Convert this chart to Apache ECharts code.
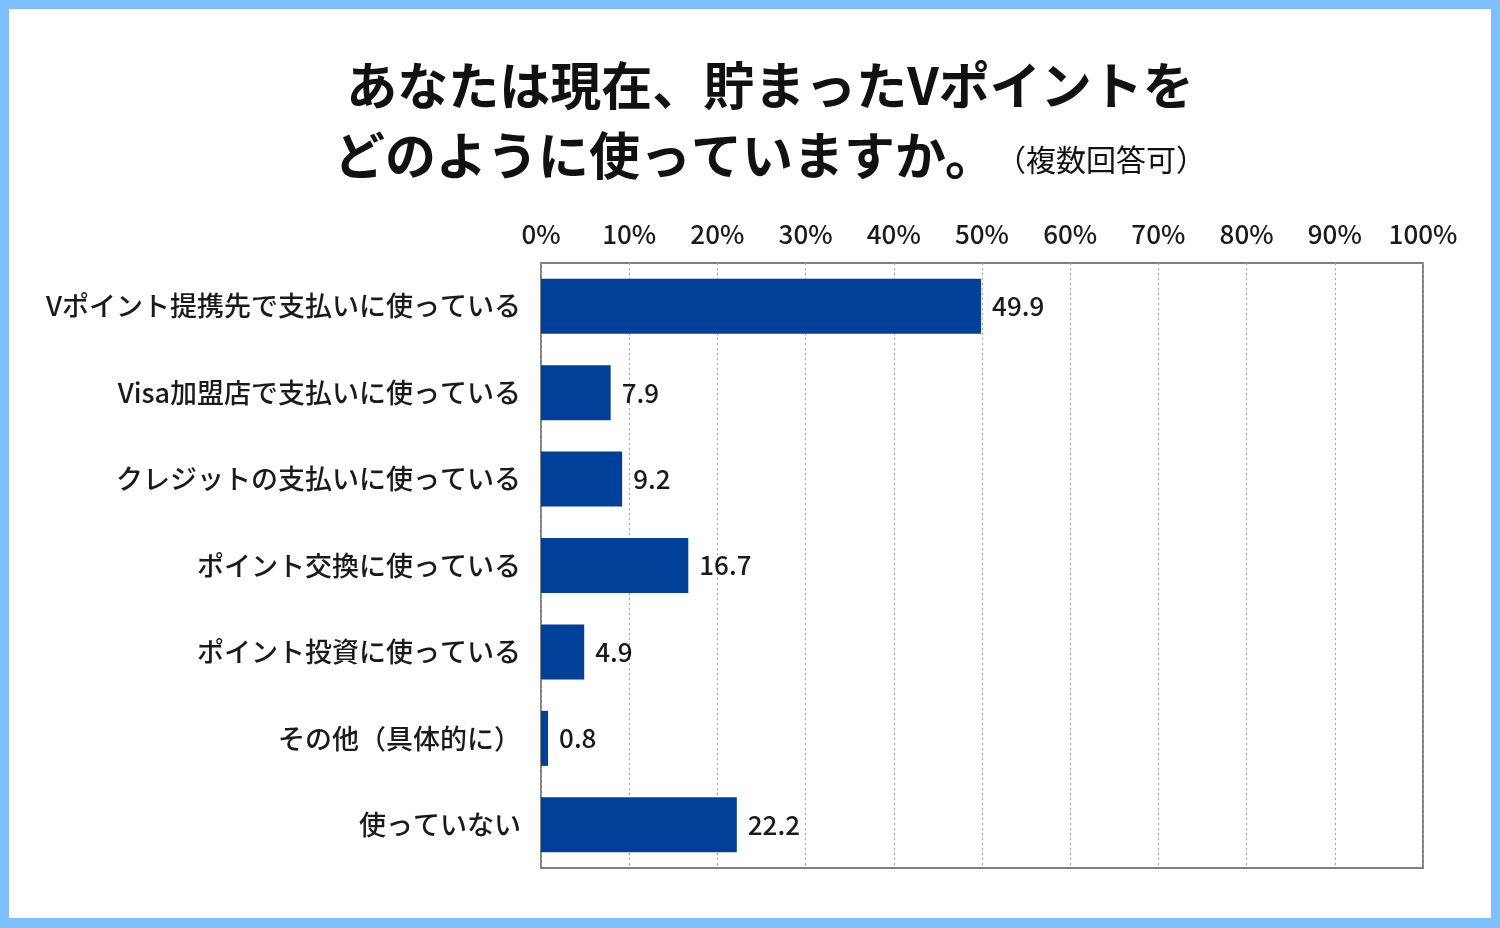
<!DOCTYPE html>
<html>
<head>
<meta charset="utf-8">
<script src="https://cdn.jsdelivr.net/npm/echarts@6/dist/echarts.min.js"></script>
<style>
  html, body { margin: 0; padding: 0; background: #7dc0ff; }
  #wrap { position: absolute; left: 9px; top: 9px; width: 1482px; height: 909px; background: #fff; }
  #chart { position: absolute; left: -9px; top: -9px; width: 1500px; height: 928px; }
</style>
</head>
<body>
<div id="wrap"><div id="chart"></div></div>
<script>
const categories = [
  'Vポイント提携先で支払いに使っている',
  'Visa加盟店で支払いに使っている',
  'クレジットの支払いに使っている',
  'ポイント交換に使っている',
  'ポイント投資に使っている',
  'その他（具体的に）',
  '使っていない'
];
const values = [49.9, 7.9, 9.2, 16.7, 4.9, 0.8, 22.2];
const titleLine1 = 'あなたは現在、貯まったVポイントを';
const titleLine2 = 'どのように使っていますか。';
const titleNote = '（複数回答可）';

const font = '"Noto Sans CJK JP", "Noto Sans", sans-serif';
const chart = echarts.init(document.getElementById('chart'));

const option = {
  backgroundColor: 'transparent',
  textStyle: { fontFamily: font },
  title: {
    left: 765,
    top: 46,
    textAlign: 'center',
    text: '{a|' + titleLine1 + '}\n{a|' + titleLine2 + '}{b|' + titleNote + '}',
    textStyle: {
      rich: {
        a: { fontFamily: font, fontSize: 51, fontWeight: 'bold', color: '#111', lineHeight: 70 },
        b: { fontFamily: font, fontSize: 30, fontWeight: 'normal', color: '#111', lineHeight: 70, padding: [8, 0, 0, 0] }
      }
    }
  },
  grid: {
    left: 541,
    top: 263,
    right: 77,
    bottom: 60,
    show: true,
    borderColor: '#808080',
    borderWidth: 2,
    backgroundColor: 'transparent'
  },
  xAxis: {
    type: 'value',
    position: 'top',
    min: 0,
    max: 100,
    interval: 10,
    axisLine: { show: false },
    axisTick: { show: false },
    axisLabel: {
      formatter: '{value}%',
      fontSize: 26,
      fontWeight: 500,
      color: '#1a1a1a',
      margin: 16,
      fontFamily: font
    },
    splitLine: {
      show: true,
      lineStyle: { type: [2, 3], color: '#a0a0a0', width: 1 }
    }
  },
  yAxis: {
    type: 'category',
    inverse: true,
    data: categories,
    axisLine: { show: false },
    axisTick: { show: false },
    axisLabel: {
      fontSize: 27,
      fontWeight: 500,
      color: '#1a1a1a',
      margin: 20,
      fontFamily: font
    }
  },
  series: [{
    type: 'bar',
    data: values,
    barWidth: 55,
    itemStyle: { color: '#004098' },
    label: {
      show: true,
      position: 'right',
      distance: 11,
      fontSize: 26,
      fontWeight: 500,
      color: '#1a1a1a',
      fontFamily: font,
      formatter: p => p.value.toFixed(1)
    },
    silent: true
  }],
  animation: false
};

chart.setOption(option);
</script>
</body>
</html>
